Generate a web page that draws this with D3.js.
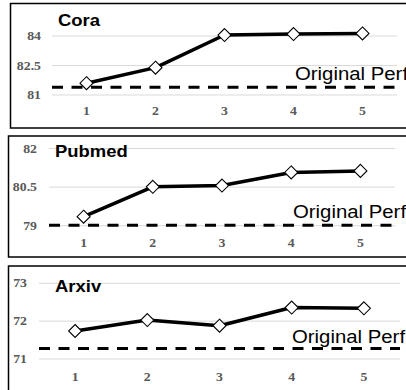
<!DOCTYPE html>
<html><head><meta charset="utf-8">
<script src="https://cdn.jsdelivr.net/npm/d3@7"></script>
<style>body{margin:0;background:#fff}svg{display:block}</style>
</head><body>
<script>
const categories = ["1","2","3","4","5"];
const titles = ["Cora","Pubmed","Arxiv"];
const coraValues = [81.6, 82.39, 84.05, 84.1, 84.13];
const pubmedValues = [79.35, 80.51, 80.56, 81.07, 81.13];
const arxivValues = [71.74, 72.03, 71.88, 72.36, 72.34];
const baselines = [81.39, 79.02, 71.28];
const coraTicks = [81, 82.5, 84];
const pubmedTicks = [79, 80.5, 82];
const arxivTicks = [71, 72, 73];
const baselineLabel = "Original Perf.";

const W = 406, H = 390;
const svg = d3.select("body").append("svg").attr("width", W).attr("height", H);

const panels = [
  {title: titles[0], values: coraValues, base: baselines[0], ticks: coraTicks,
   box: [10.5, 3.5, 500, 124.5], x: [52, 397], y: [95, 36], dom: [81, 84],
   titleXY: [58, 26], labelXY: [295, 80], xLabY: 115, tickRight: 41},
  {title: titles[1], values: pubmedValues, base: baselines[1], ticks: pubmedTicks,
   box: [8.5, 136, 500, 121], x: [49, 395], y: [225.7, 148.5], dom: [79, 82],
   titleXY: [55, 157], labelXY: [293, 218], xLabY: 247, tickRight: 37},
  {title: titles[2], values: arxivValues, base: baselines[2], ticks: arxivTicks,
   box: [8.5, 266, 500, 200], x: [39, 400], y: [359, 283.3], dom: [71, 73],
   titleXY: [55, 292], labelXY: [292, 343], xLabY: 381, tickRight: 27}
];

panels.forEach(p => {
  const g = svg.append("g");
  g.append("rect").attr("x", p.box[0]).attr("y", p.box[1]).attr("width", p.box[2]).attr("height", p.box[3])
    .attr("fill", "none").attr("stroke", "#000").attr("stroke-width", 1.5);

  const x = d3.scaleBand().domain(categories).range(p.x);
  const y = d3.scaleLinear().domain(p.dom).range(p.y);

  g.selectAll(".grid").data(p.ticks).enter().append("line")
    .attr("x1", p.x[0]).attr("x2", p.x[1])
    .attr("y1", d => y(d)).attr("y2", d => y(d))
    .attr("stroke", "#d9d9d9").attr("stroke-width", 1);

  g.selectAll(".yl").data(p.ticks).enter().append("text")
    .attr("transform", d => `translate(${p.tickRight},${y(d) + 4}) scale(1.15,1)`)
    .attr("text-anchor", "end")
    .attr("font-family", "Liberation Serif, Times New Roman, serif")
    .attr("font-weight", "bold").attr("font-size", 12).attr("fill", "#595959")
    .text(d => d);

  g.selectAll(".xl").data(categories).enter().append("text")
    .attr("transform", d => `translate(${x(d) + x.bandwidth() / 2},${p.xLabY}) scale(1.15,1)`)
    .attr("text-anchor", "middle")
    .attr("font-family", "Liberation Serif, Times New Roman, serif")
    .attr("font-weight", "bold").attr("font-size", 12).attr("fill", "#595959")
    .text(d => d);

  g.append("line").attr("x1", p.x[0]).attr("x2", p.x[1])
    .attr("y1", y(p.base)).attr("y2", y(p.base))
    .attr("stroke", "#000").attr("stroke-width", 3).attr("stroke-dasharray", "11,8.5");

  g.append("text")
    .attr("transform", `translate(${p.labelXY[0]},${p.labelXY[1]}) scale(1.1,1)`)
    .attr("font-family", "Liberation Sans, Arial, sans-serif")
    .attr("font-size", 18.5).attr("fill", "#000")
    .text(baselineLabel);

  g.append("text")
    .attr("transform", `translate(${p.titleXY[0]},${p.titleXY[1]}) scale(1.12,1)`)
    .attr("font-family", "Liberation Sans, Arial, sans-serif")
    .attr("font-weight", "bold").attr("font-size", 16.5).attr("fill", "#000")
    .text(p.title);

  const cx = (d, i) => x(categories[i]) + x.bandwidth() / 2;
  const line = d3.line().x((d, i) => cx(d, i)).y(d => y(d));
  g.append("path").datum(p.values).attr("d", line)
    .attr("fill", "none").attr("stroke", "#000").attr("stroke-width", 3.5).attr("stroke-linejoin", "round");

  g.selectAll(".m").data(p.values).enter().append("path")
    .attr("d", (d, i) => {
      const px = cx(d, i), py = y(d);
      return `M${px},${py - 6.5}L${px + 6.5},${py}L${px},${py + 6.5}L${px - 6.5},${py}Z`;
    })
    .attr("fill", "#fff").attr("stroke", "#000").attr("stroke-width", 1.1);
});
</script>
</body></html>
